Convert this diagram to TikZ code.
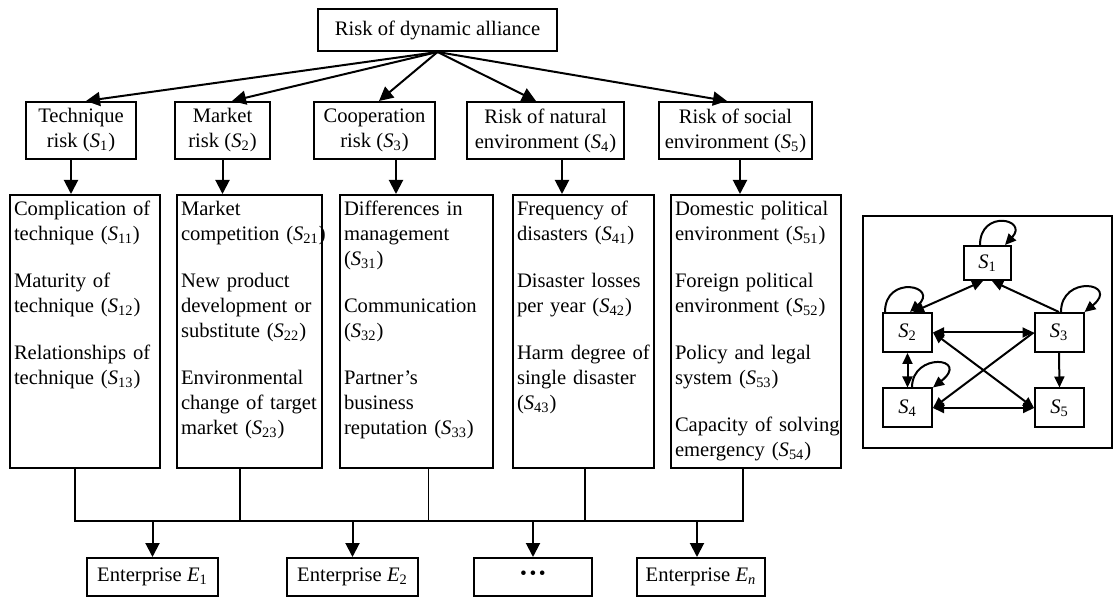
\documentclass[tikz,border=0pt]{standalone}
\usepackage{fontspec}
\setmainfont{Liberation Serif}
\usetikzlibrary{arrows.meta,calc}
\newcommand{\Sr}[1]{\textit{S}\textsubscript{#1}}

\begin{document}
\begin{tikzpicture}[x=0.5pt,y=-0.5pt,
      every node/.style={font=\fontsize{10.3}{12.5}\selectfont},
      root/.style={draw,line width=1pt,minimum width=119.5pt,minimum height=21pt,inner sep=0pt},
      cat/.style={draw,line width=1pt,align=center,inner xsep=2pt,inner ysep=0pt,minimum height=28.5pt},
      leaf/.style={draw,line width=1pt,anchor=north west,align=left,inner xsep=2pt,inner ysep=0pt,
        text height=10.5pt,text depth=126pt,
        execute at begin node={\hyphenpenalty=10000\exhyphenpenalty=10000}},
      ent/.style={draw,line width=1pt,minimum height=19pt,inner sep=0pt},
      sbox/.style={draw,line width=1pt,minimum width=24.5pt,minimum height=19.5pt,inner sep=0pt},
      arr/.style={-{Triangle[length=7pt,width=7pt]},line width=1pt},
      sarr/.style={-{Triangle[length=5.5pt,width=5pt]},line width=1pt},
      sboth/.style={{Triangle[length=5.5pt,width=5pt]}-{Triangle[length=5.5pt,width=5pt]},line width=1pt},
      bus/.style={line width=0.8pt}]
      \useasboundingbox (0,0) rectangle (1114,598);
      % hierarchy
      \node[root] (risk) at (437.5,30) {Risk of dynamic alliance};
      \node[cat,minimum width=55pt] (t1) at (81,130.5) {Technique\\risk (\Sr{1})};
      \node[cat,minimum width=47.5pt] (t2) at (222.5,130.5) {Market\\risk (\Sr{2})};
      \node[cat,minimum width=60.5pt] (t3) at (374.5,130.5) {Cooperation\\risk (\Sr{3})};
      \node[cat,minimum width=78.5pt] (t4) at (545.5,130.5) {Risk of natural\\environment (\Sr{4})};
      \node[cat,minimum width=76.5pt] (t5) at (735.5,130.5) {Risk of social\\environment (\Sr{5})};
      \node[leaf,text width=71pt] (l1) at (9,194)
        {Complication of\\technique~(\Sr{11})\\[11pt]Maturity of\\technique~(\Sr{12})\\[11pt]%
         Relationships of\\technique~(\Sr{13})};
      \node[leaf,text width=68.5pt] (l2) at (176,194)
        {Market\\competition~(\Sr{21})\\[11pt]New product\\development or\\substitute~(\Sr{22})\\[11pt]%
         Environmental\\change of target\\market~(\Sr{23})};
      \node[leaf,text width=72.5pt] (l3) at (339,194)
        {Differences in\\management\\(\Sr{31})\\[11pt]Communication\\(\Sr{32})\\[11pt]%
         Partner's\\business\\reputation~(\Sr{33})};
      \node[leaf,text width=66.5pt] (l4) at (512,194)
        {Frequency of\\disasters~(\Sr{41})\\[11pt]Disaster losses\\per year~(\Sr{42})\\[11pt]%
         Harm~degree~of\\single disaster\\(\Sr{43})};
      \node[leaf,text width=81pt] (l5) at (670,194)
        {Domestic~political\\environment~(\Sr{51})\\[11pt]Foreign political\\environment~(\Sr{52})\\[11pt]%
         Policy and legal\\system~(\Sr{53})\\[11pt]\mbox{Capacity of solving}\\emergency~(\Sr{54})};
      \node[ent,minimum width=65.5pt] (e1) at (152.5,577) {Enterprise \textit{E}\textsubscript{1}};
      \node[ent,minimum width=65.5pt] (e2) at (352.5,577) {Enterprise \textit{E}\textsubscript{2}};
      \node[ent,minimum width=59pt] (e3) at (533,577) {\fontsize{14}{14}\selectfont\textbf{···}};
      \node[ent,minimum width=64pt] (en) at (701,577) {Enterprise \textit{E}\textsubscript{\textit{n}}};
      \coordinate (bus) at (0,521);
      \draw[arr] (risk.south) -- ([xshift=2.5pt]t1.north);
      \draw[arr] (risk.south) -- ([xshift=4.75pt]t2.north);
      \draw[arr] (risk.south) -- ([xshift=2.25pt]t3.north);
      \draw[arr] (risk.south) -- ([xshift=-4.75pt]t4.north);
      \draw[arr] (risk.south) -- ([xshift=-4.25pt]t5.north);
      \draw[arr] ([xshift=-5pt]t1.south) -- ([xshift=-5pt]t1.south |- l1.north);
      \draw[arr] (t2.south) -- (t2.south |- l2.north);
      \draw[arr] ([xshift=10.75pt]t3.south) -- ([xshift=10.75pt]t3.south |- l3.north);
      \draw[arr] ([xshift=8.25pt]t4.south) -- ([xshift=8.25pt]t4.south |- l4.north);
      \draw[arr] ([xshift=2.25pt]t5.south) -- ([xshift=2.25pt]t5.south |- l5.north);
      \draw[bus] ([xshift=-5pt]l1.south) |- ([xshift=-6.5pt]l5.south |- bus) -- ([xshift=-6.5pt]l5.south);
      \draw[bus] ([xshift=-4.75pt]l2.south) -- ([xshift=-4.75pt]l2.south |- bus);
      \draw[bus] ([xshift=6pt]l3.south) -- ([xshift=6pt]l3.south |- bus);
      \draw[bus] ([xshift=0.75pt]l4.south) -- ([xshift=0.75pt]l4.south |- bus);
      \draw[arr] (e1.north |- bus) -- (e1.north);
      \draw[arr] (e2.north |- bus) -- (e2.north);
      \draw[arr] (e3.north |- bus) -- (e3.north);
      \draw[arr] ([xshift=-2pt]en.north |- bus) -- ([xshift=-2pt]en.north);
      % relation graph
      \node[draw,line width=1pt,minimum width=124.5pt,minimum height=116pt,inner sep=0pt] (panel) at (987.5,332) {};
      \node[sbox,minimum width=23.5pt,minimum height=17pt] (s1) at (987.5,263) {\Sr{1}};
      \node[sbox] (s2) at (907.5,332.5) {\Sr{2}};
      \node[sbox] (s3) at (1059,332.5) {\Sr{3}};
      \node[sbox] (s4) at (907.5,408) {\Sr{4}};
      \node[sbox] (s5) at (1059.5,408) {\Sr{5}};
      \draw[sboth] ([xshift=2.75pt]s2.north) -- ([xshift=-2.25pt]s1.south);
      \draw[sarr] (s3.north) -- ([xshift=2.25pt]s1.south);
      \draw[sboth] (s2.east) -- (s3.west);
      \draw[sarr] (s3.west) -- (s4.east);
      \draw[sboth] (s2.east) -- (s5.west);
      \draw[sboth] (s4.east) -- (s5.west);
      \draw[sboth] (s2.south) -- (s4.north);
      \draw[sarr] (s3.south) -- (s5.north);
      \draw[sarr] ([xshift=-3.75pt]s1.north) .. controls +(0,-36) and +(24,-26) .. ([xshift=8.75pt]s1.north);
      \draw[sarr] ([xshift=-11.25pt]s2.north) .. controls +(0,-38) and +(30,-26) .. ([xshift=1.25pt]s2.north);
      \draw[sarr] ([xshift=1pt]s3.north) .. controls +(0,-38) and +(36,-29) .. (s3.north east);
      \draw[sarr] ([xshift=2.25pt]s4.north) .. controls +(0,-36) and +(38,-30) .. (s4.north east);
    \end{tikzpicture}
\end{document}
